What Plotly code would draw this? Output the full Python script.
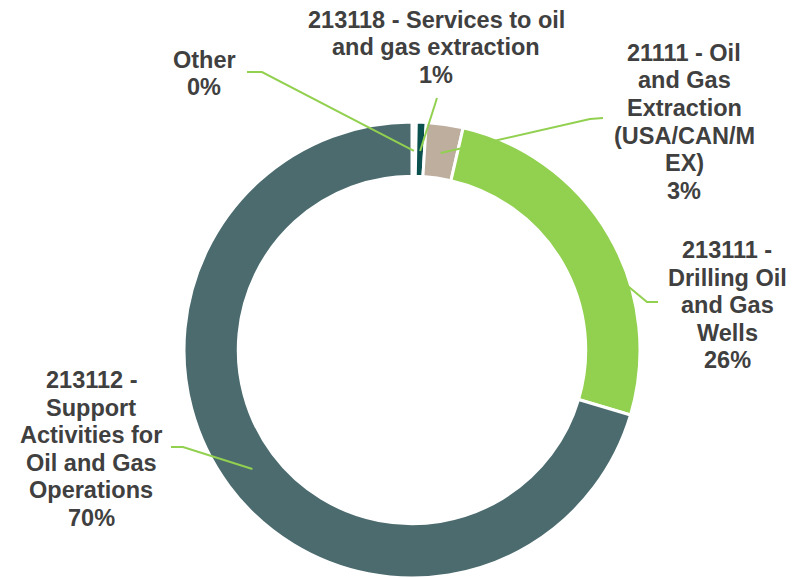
import math
import plotly.graph_objects as go

# ---- data ----
categories = [
    "Other",
    "213118 - Services to oil and gas extraction",
    "21111 - Oil and Gas Extraction (USA/CAN/MEX)",
    "213111 - Drilling Oil and Gas Wells",
    "213112 - Support Activities for Oil and Gas Operations",
]
values = [0.3, 0.7, 2.6, 26.0, 70.4]
label_lines = [
    ["Other"],
    ["213118 - Services to oil", "and gas extraction"],
    ["21111 - Oil", "and Gas", "Extraction", "(USA/CAN/M", "EX)"],
    ["213111 -", "Drilling Oil", "and Gas", "Wells"],
    ["213112 -", "Support", "Activities for", "Oil and Gas", "Operations"],
]
colors = ["#F4F4F4", "#0B5150", "#BDAE9E", "#92D050", "#4B6B6E"]

# ---- layout constants (pixels) ----
W, H = 806, 578
CX, CY, R_OUT = 412, 350, 226
DOMAIN_PAD = 2
HOLE = 0.762
R_IN = R_OUT * HOLE
R_MID = (R_OUT + R_IN) / 2
LINE_STEP = 27.5
# label text center x, first-line center y
label_pos = [(204, 60), (436, 20), (684, 53), (727, 250), (91, 380)]
# leader start point and elbow point
leader_pts = [
    [(247, 72), (262, 72)],
    [(437, 98)],
    [(603, 118), (590, 119)],
    [(658, 302), (647, 302)],
    [(171, 447), (183, 447)],
]

def px(x):
    return x / W

def py(y):
    return 1 - y / H

RD = R_OUT + DOMAIN_PAD
fig = go.Figure(
    go.Pie(
        labels=categories,
        values=values,
        hole=HOLE,
        sort=False,
        direction="clockwise",
        rotation=0,
        textinfo="none",
        hoverinfo="label+percent",
        marker=dict(colors=colors, line=dict(color="white", width=3)),
        domain=dict(
            x=[px(CX - RD), px(CX + RD)],
            y=[py(CY + RD), py(CY - RD)],
        ),
        showlegend=False,
    )
)

total = sum(values)
annotations = []
shapes = []
cum = 0.0
for i, v in enumerate(values):
    mid = cum + v / 2
    cum += v
    theta = 2 * math.pi * mid / total
    ex = CX + R_MID * math.sin(theta)
    ey = CY - R_MID * math.cos(theta)
    pts = leader_pts[i] + [(ex, ey)]
    path = "M " + " L ".join(f"{px(x):.5f},{py(y):.5f}" for x, y in pts)
    shapes.append(dict(type="path", path=path, xref="paper", yref="paper",
                       line=dict(color="#92D050", width=2)))
    pct = round(v / total * 100)
    lines = label_lines[i] + [f"{pct}%"]
    lx, ly = label_pos[i]
    for j, t in enumerate(lines):
        annotations.append(dict(
            text=t, x=px(lx), y=py(ly + j * LINE_STEP), xref="paper", yref="paper",
            xanchor="center", yanchor="middle", showarrow=False,
            font=dict(family="Liberation Sans, Arial, sans-serif", size=23.5,
                      color="#404040", weight="bold"),
        ))

fig.update_layout(
    width=W, height=H,
    margin=dict(l=0, r=0, t=0, b=0),
    paper_bgcolor="white", plot_bgcolor="white",
    annotations=annotations, shapes=shapes,
)

fig.write_html("out.html")
